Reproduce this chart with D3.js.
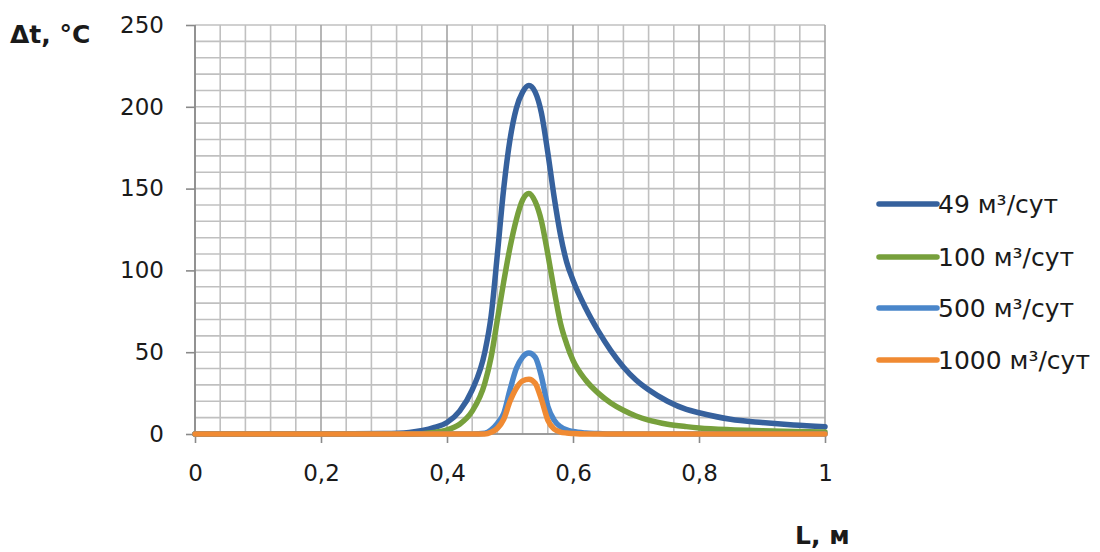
<!DOCTYPE html>
<html><head><meta charset="utf-8">
<script src="https://cdn.jsdelivr.net/npm/d3@7"></script>
<style>
html,body{margin:0;padding:0;background:#fff;}
svg{display:block;}
</style></head>
<body>
<svg id="chart" width="1100" height="552"></svg>
<script>
// ---- data ----
const xValues = [0, 0.1, 0.2, 0.3, 0.34, 0.38, 0.4, 0.42, 0.44, 0.46, 0.47, 0.48, 0.49, 0.5, 0.51, 0.52, 0.53, 0.54, 0.55, 0.56, 0.57, 0.58, 0.59, 0.6, 0.62, 0.64, 0.66, 0.68, 0.7, 0.72, 0.75, 0.78, 0.8, 0.85, 0.9, 0.95, 1.0];
const s49   = [0, 0, 0, 0.3, 1, 4, 7, 14, 27, 50, 72, 110, 150, 180, 199, 209, 213, 209, 196, 172, 145, 122, 105, 94, 77, 63, 51, 41, 33, 27, 20, 15, 13, 9, 7, 5.5, 4.5];
const s100  = [0, 0, 0, 0, 0, 1, 2.5, 6, 14, 31, 47, 70, 93, 114, 131, 143, 147, 142, 130, 110, 88, 68, 55, 45, 33, 25, 19, 14.5, 11, 8.5, 6, 4.5, 3.7, 2.6, 2, 1.5, 1.2];
const s500  = [0, 0, 0, 0, 0, 0, 0, 0, 0, 0.5, 2.5, 6.5, 12.5, 27, 40, 47, 49.5, 47, 35, 17, 8.5, 4.5, 2.5, 1.5, 0.6, 0.3, 0, 0, 0, 0, 0, 0, 0, 0, 0, 0, 0];
const s1000 = [0, 0, 0, 0, 0, 0, 0, 0, 0, 0, 1, 3.5, 9, 20, 28, 32.5, 33.5, 31, 21, 8.5, 3, 1.2, 0.6, 0.3, 0, 0, 0, 0, 0, 0, 0, 0, 0, 0, 0, 0, 0];
const seriesNames = ["49 м³/сут", "100 м³/сут", "500 м³/сут", "1000 м³/сут"];
const seriesColors = ["#36619d", "#77a03c", "#4a86ca", "#f08a32"];
const xTickValues = [0, 0.2, 0.4, 0.6, 0.8, 1];
const xTickLabels = ["0", "0,2", "0,4", "0,6", "0,8", "1"];
const yTickValues = [0, 50, 100, 150, 200, 250];
const yTickLabels = ["0", "50", "100", "150", "200", "250"];
const yTitle = "Δt, °C";
const xTitle = "L, м";

// ---- layout ----
const svg = d3.select("#chart");
const pL = 195, pR = 825, pT = 25, pB = 434;
const x = d3.scaleLinear().domain([0, 1]).range([pL, pR]);
const y = d3.scaleLinear().domain([0, 250]).range([pB, pT]);
const font = "'DejaVu Sans', sans-serif";

// grid
const g = svg.append("g");
const minorX = d3.range(0, 1.0001, 0.04);
const minorY = d3.range(0, 250.001, 10);
g.selectAll("line.hy").data(minorY).enter().append("line")
  .attr("x1", pL).attr("x2", pR)
  .attr("y1", d => y(d)).attr("y2", d => y(d))
  .attr("stroke", "#c0c0c0").attr("stroke-width", 1.6);
g.selectAll("line.vx").data(minorX).enter().append("line")
  .attr("y1", pT).attr("y2", pB)
  .attr("x1", d => x(d)).attr("x2", d => x(d))
  .attr("stroke", d => (Math.abs(d*5 - Math.round(d*5)) < 1e-6) ? "#a4a4a4" : "#c0c0c0")
  .attr("stroke-width", 1.6);

// axes
const yAxis = d3.axisLeft(y).tickValues(yTickValues).tickFormat((d,i) => yTickLabels[i]).tickSize(9).tickPadding(22);
const xAxis = d3.axisBottom(x).tickValues(xTickValues).tickFormat((d,i) => xTickLabels[i]).tickSize(9).tickPadding(22);
const ya = svg.append("g").attr("transform", `translate(${pL},0)`).call(yAxis);
const xa = svg.append("g").attr("transform", `translate(0,${pB})`).call(xAxis);
[ya, xa].forEach(a => {
  a.select(".domain").attr("stroke", "#8a8a8a").attr("stroke-width", 1.6);
  a.selectAll(".tick line").attr("stroke", "#8a8a8a").attr("stroke-width", 1.6);
  a.selectAll("text").attr("fill", "#1a1a1a").style("font-family", font).style("font-size", "23px");
});
ya.select(".domain").attr("d", `M0,${pT}V${pB}`);
xa.select(".domain").attr("d", `M${pL},0H${pR}`);

// lines
const allSeries = [s49, s100, s500, s1000];
const line = d3.line().x((d,i) => x(xValues[i])).y(d => y(d)).curve(d3.curveMonotoneX);
svg.append("g").selectAll("path").data(allSeries).enter().append("path")
  .attr("d", d => line(d))
  .attr("fill", "none")
  .attr("stroke", (d,i) => seriesColors[i])
  .attr("stroke-width", 5.5)
  .attr("stroke-linejoin", "round").attr("stroke-linecap", "round");

// legend
const legY = [204, 257, 308, 360];
const leg = svg.append("g");
seriesNames.forEach((n, i) => {
  leg.append("line").attr("x1", 879).attr("x2", 937).attr("y1", legY[i]).attr("y2", legY[i])
    .attr("stroke", seriesColors[i]).attr("stroke-width", 5.5).attr("stroke-linecap", "round");
  leg.append("text").attr("x", 938).attr("y", legY[i]).attr("dy", "0.36em")
    .style("font-family", font).style("font-size", "25px").attr("fill", "#1a1a1a").text(n);
});

// titles
svg.append("text").attr("x", 10).attr("y", 43).style("font-family", font)
  .style("font-size", "25px").style("font-weight", "bold").attr("fill", "#1a1a1a").text(yTitle);
svg.append("text").attr("x", 795).attr("y", 544).style("font-family", font)
  .style("font-size", "25px").style("font-weight", "bold").attr("fill", "#1a1a1a").text(xTitle);
</script>
</body></html>
